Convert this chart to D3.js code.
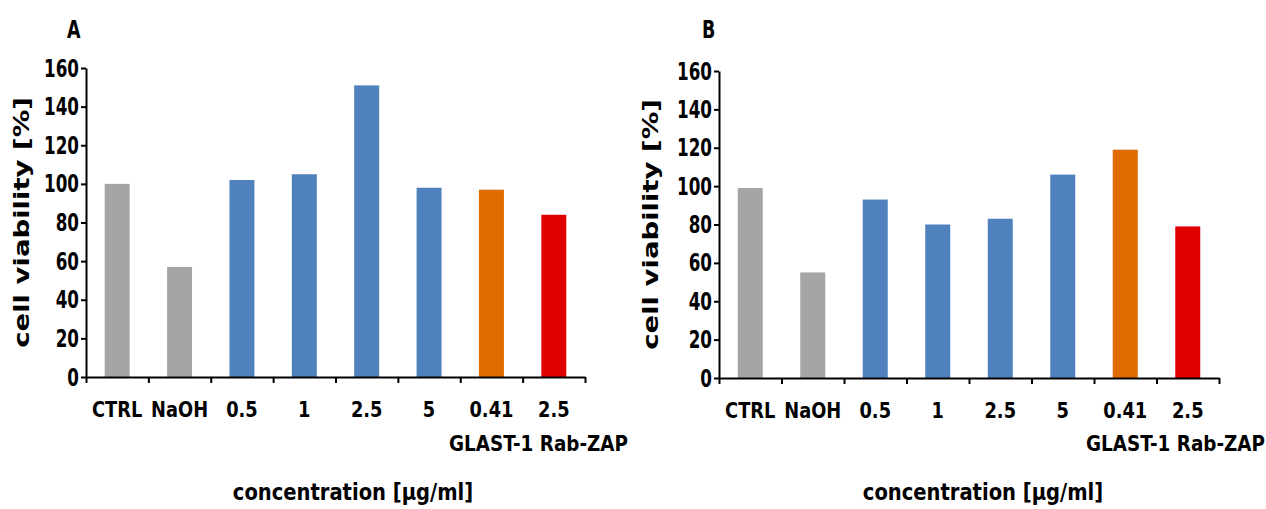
<!DOCTYPE html>
<html>
<head>
<meta charset="utf-8">
<script src="https://cdn.jsdelivr.net/npm/d3@7"></script>
<style>
  body { margin: 0; background: #fff; }
  svg { display: block; }
  text { font-family: "DejaVu Sans", Verdana, sans-serif; font-weight: bold; fill: #000; }
</style>
</head>
<body>
<div id="chart"></div>
<script>
// chart values
const categories = ["CTRL", "NaOH", "0.5", "1", "2.5", "5", "0.41", "2.5"];
const valuesA = [100, 57, 102, 105, 151, 98, 97, 84];
const valuesB = [99, 55, 93, 80, 83, 106, 119, 79];
const barColors = ["#a5a5a5", "#a5a5a5", "#4f81bd", "#4f81bd", "#4f81bd", "#4f81bd", "#e06c00", "#e00000"];
const yTicks = [0, 20, 40, 60, 80, 100, 120, 140, 160];
const yLabel = "cell viability [%]";
const xLabel = "concentration [µg/ml]";
const groupLabel = "GLAST-1 Rab-ZAP";

const W = 1266, H = 509;

const panels = [
    { name: "A", values: valuesA, left: 86, right: 585, top: 68, bottom: 377, yLabelX: 22, xLabelX: 353, groupEnd: 628, titleX: 67 },
    { name: "B", values: valuesB, left: 719, right: 1219, top: 71, bottom: 378, yLabelX: 651, xLabelX: 983, groupEnd: 1265, titleX: 702 }
];

const svg = d3.select("#chart").append("svg")
    .attr("width", W)
    .attr("height", H);

// squeeze text horizontally (the figure is compressed sideways)
function squeeze(sel, sx) {
    sel.each(function() {
        let t = d3.select(this);
        let x = +t.attr("x") || 0;
        let y = +t.attr("y") || 0;
        t.attr("x", 0).attr("y", 0)
            .attr("transform", `translate(${x},${y}) scale(${sx},1)`);
    });
}

for (let p of panels) {
    let g = svg.append("g").classed("panel", true);

    let xBand = d3.scaleBand()
        .domain(d3.range(categories.length))
        .range([p.left, p.right])
        .paddingInner(0.6)
        .paddingOuter(0.3);
    let xEdge = d3.scaleLinear()
        .domain([0, categories.length])
        .range([p.left, p.right]);
    let yScale = d3.scaleLinear()
        .domain([0, 160])
        .range([p.bottom, p.top]);

    // bars
    g.append("g").selectAll("rect")
        .data(p.values)
        .join("rect")
        .attr("x", (d, i) => xBand(i))
        .attr("y", d => yScale(d))
        .attr("width", xBand.bandwidth())
        .attr("height", d => yScale(0) - yScale(d))
        .attr("fill", (d, i) => barColors[i]);

    // x axis: ticks at band edges
    let xAxis = g.append("g")
        .attr("transform", `translate(0,${p.bottom})`)
        .call(d3.axisBottom(xEdge).tickValues(d3.range(categories.length + 1)).tickFormat("").tickSize(6).tickSizeOuter(0));
    xAxis.selectAll("path, line").attr("stroke", "#000").attr("stroke-width", 2);

    // x labels
    let xLab = g.append("g")
        .attr("transform", `translate(0,${p.bottom})`)
        .call(d3.axisBottom(xBand).tickFormat(i => categories[i]).tickSize(0).tickPadding(24));
    xLab.select(".domain").remove();
    xLab.selectAll("text").attr("font-size", "22px").attr("font-family", null).attr("fill", "#000");
    squeeze(xLab.selectAll("text"), 0.81);

    // y axis
    let yAxis = g.append("g")
        .attr("transform", `translate(${p.left},0)`)
        .call(d3.axisLeft(yScale).tickValues(yTicks).tickSize(5).tickPadding(2).tickSizeOuter(0));
    yAxis.selectAll("path, line").attr("stroke", "#000").attr("stroke-width", 2);
    yAxis.selectAll("text").attr("font-size", "25px").attr("font-family", null).attr("fill", "#000");
    squeeze(yAxis.selectAll("text"), 0.67);

    // y axis title
    g.append("text")
        .attr("transform", `translate(${p.yLabelX},${(p.top + p.bottom) / 2}) rotate(-90) scale(1,0.74)`)
        .attr("text-anchor", "middle")
        .attr("dy", "0.35em")
        .attr("font-size", "27.5px")
        .attr("fill", "#111")
        .text(yLabel);

    // group label under the last two bars
    let gl = g.append("text")
        .attr("x", p.groupEnd)
        .attr("y", 451)
        .attr("text-anchor", "end")
        .attr("font-size", "22px")
        .text(groupLabel);
    squeeze(gl, 0.835);

    // x axis title
    let xl = g.append("text")
        .attr("x", p.xLabelX)
        .attr("y", 500)
        .attr("text-anchor", "middle")
        .attr("font-size", "23px")
        .text(xLabel);
    squeeze(xl, 0.85);

    // panel letter
    let pl = g.append("text")
        .attr("x", p.titleX)
        .attr("y", 38)
        .attr("font-size", "25px")
        .text(p.name);
    squeeze(pl, 0.7);
}
</script>
</body>
</html>
